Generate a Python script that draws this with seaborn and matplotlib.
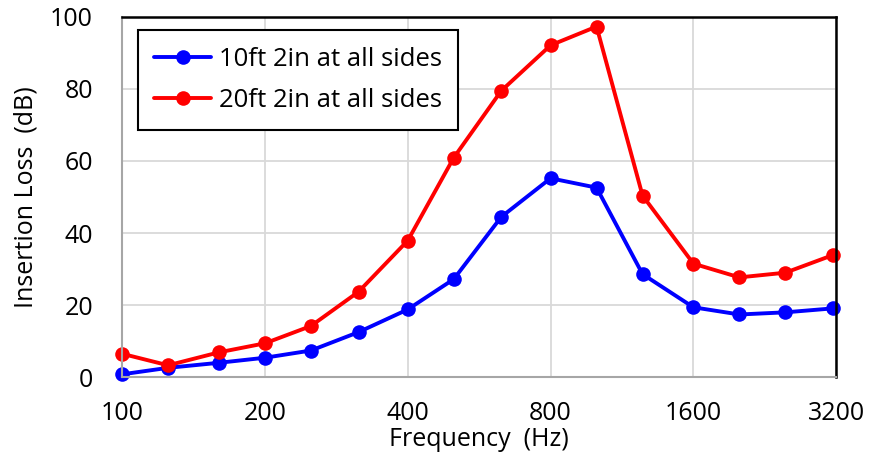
import seaborn as sns
import matplotlib.pyplot as plt
import pandas as pd

freq = [100, 125, 160, 200, 250, 315, 400, 500, 630, 800, 1000, 1250, 1600, 2000, 2500, 3150]
loss_10ft = [0.8, 2.6, 4.0, 5.4, 7.4, 12.5, 18.8, 27.2, 44.5, 55.2, 52.6, 28.6, 19.4, 17.4, 18.0, 19.1]
loss_20ft = [6.5, 3.3, 6.9, 9.4, 14.2, 23.7, 37.9, 60.9, 79.5, 92.1, 97.3, 50.4, 31.5, 27.7, 29.0, 33.9]
series = ['10ft 2in at all sides', '20ft 2in at all sides']
xticks = [100, 200, 400, 800, 1600, 3200]

df = pd.concat([
    pd.DataFrame({'freq': freq, 'loss': loss_10ft, 'case': series[0]}),
    pd.DataFrame({'freq': freq, 'loss': loss_20ft, 'case': series[1]}),
])

sns.set_style('whitegrid')
plt.rcParams['font.family'] = ['Open Sans', 'DejaVu Sans']
plt.rcParams['text.color'] = 'black'
plt.rcParams['axes.labelcolor'] = 'black'
plt.rcParams['xtick.color'] = 'black'
plt.rcParams['ytick.color'] = 'black'

fig, ax = plt.subplots(figsize=(8.72, 4.55), dpi=100)
fig.subplots_adjust(left=0.14, right=0.959, top=0.963, bottom=0.171)

sns.lineplot(data=df, x='freq', y='loss', hue='case', palette=['#0000FF', '#FF0000'],
             marker='o', markersize=10.5, markeredgewidth=0, linewidth=2.8, ax=ax, clip_on=False)

ax.set_xscale('log', base=2)
ax.set_xlim(100, 3200)
ax.set_ylim(0, 100)
ax.set_xticks(xticks)
ax.set_xticklabels([str(t) for t in xticks])
ax.minorticks_off()
ax.set_yticks(range(0, 101, 20))
ax.tick_params(labelsize=18, length=0)
ax.tick_params(axis='x', pad=17)
ax.tick_params(axis='y', pad=21)
ax.grid(color='#d9d9d9', linewidth=1.3)

for side in ['top', 'right']:
    ax.spines[side].set_color('black')
    ax.spines[side].set_linewidth(1.8)
for side in ['left', 'bottom']:
    ax.spines[side].set_color('#a6a6a6')
    ax.spines[side].set_linewidth(1.5)

ax.set_xlabel('Frequency  (Hz)', fontsize=18)
ax.xaxis.set_label_coords(0.5, -0.138)
ax.set_ylabel('Insertion Loss  (dB)', fontsize=18)
ax.yaxis.set_label_coords(-0.117, 0.5)

leg = ax.legend(loc='upper left', bbox_to_anchor=(0.022, 0.964), borderaxespad=0,
                fontsize=18.5, frameon=True, fancybox=False, edgecolor='black', framealpha=1,
                borderpad=0.65, handlelength=2.2, handletextpad=0.3, labelspacing=0.65)
leg.get_frame().set_linewidth(1.5)

fig.savefig('out.png', dpi=100)
